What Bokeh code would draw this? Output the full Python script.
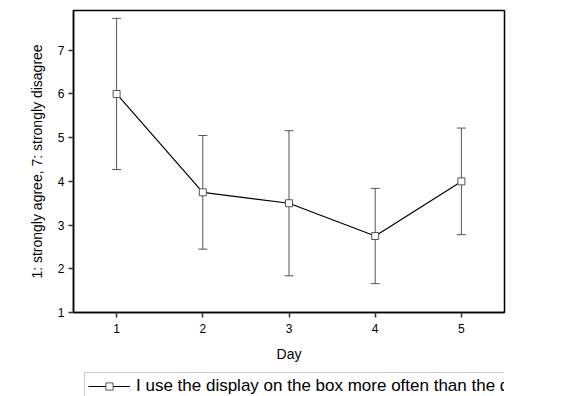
from bokeh.plotting import figure
from bokeh.layouts import column
from bokeh.models import ColumnDataSource, Whisker, TeeHead, Range1d, FixedTicker, Legend, LegendItem
from bokeh.embed import file_html
from bokeh.resources import INLINE

days = [1, 2, 3, 4, 5]
means = [6.0, 3.75, 3.5, 2.75, 4.0]
errors = [1.73, 1.30, 1.66, 1.09, 1.22]
y_ticks = [1, 2, 3, 4, 5, 6, 7]
series_label = "I use the display on the box more often than the desktop app"

upper = [m + e for m, e in zip(means, errors)]
lower = [m - e for m, e in zip(means, errors)]
src = ColumnDataSource(data=dict(x=days, y=means, upper=upper, lower=lower))

FONT = "Liberation Sans"

p = figure(width=562, height=366, output_backend="svg", toolbar_location=None,
           x_range=Range1d(0.5, 5.5), y_range=Range1d(1, 7.91),
           min_border_left=73, min_border_right=58, min_border_top=10, min_border_bottom=54)

p.grid.visible = False
p.outline_line_color = "black"
p.outline_line_width = 1.5
p.background_fill_color = "white"
p.border_fill_color = "white"

for ax in (p.xaxis, p.yaxis):
    ax.axis_line_color = "black"
    ax.axis_line_width = 1.5
    ax.major_tick_line_color = "#333333"
    ax.major_tick_line_width = 1.5
    ax.major_tick_out = 5
    ax.major_tick_in = 0
    ax.minor_tick_line_color = None
    ax.major_label_text_font = FONT
    ax.major_label_text_font_size = "12px"
    ax.major_label_text_color = "black"
    ax.axis_label_text_font = FONT
    ax.axis_label_text_font_size = "14px"
    ax.axis_label_text_font_style = "normal"
    ax.axis_label_text_color = "black"

p.xaxis.ticker = FixedTicker(ticks=days)
p.yaxis.ticker = FixedTicker(ticks=y_ticks)
p.xaxis.axis_label = "Day"
p.yaxis.axis_label = "1: strongly agree, 7: strongly disagree"
p.xaxis.major_label_standoff = 6
p.xaxis.axis_label_standoff = 10
p.yaxis.major_label_standoff = 4
p.yaxis.axis_label_standoff = 10

w = Whisker(source=src, base="x", upper="upper", lower="lower",
            line_color="#555555", line_width=1,
            upper_head=TeeHead(size=9, line_color="#555555", line_width=1),
            lower_head=TeeHead(size=9, line_color="#555555", line_width=1))
p.add_layout(w)

p.line("x", "y", source=src, line_color="black", line_width=1.2)
p.scatter("x", "y", source=src, marker="square", size=7,
          fill_color="white", line_color="#555555", line_width=1)

# legend strip below the chart (glyphs sit outside its visible range; only the legend shows)
lg = figure(width=562, height=30, output_backend="svg", toolbar_location=None,
            x_range=Range1d(0.5, 5.5), y_range=Range1d(100, 101),
            min_border_left=0, min_border_right=0, min_border_top=0, min_border_bottom=0)
lg.axis.visible = False
lg.grid.visible = False
lg.outline_line_color = None
lg.background_fill_color = "white"
lg.border_fill_color = "white"
ln2 = lg.line("x", "y", source=src, line_color="black", line_width=1.2)
sc2 = lg.scatter("x", "y", source=src, marker="square", size=6,
                 fill_color="white", line_color="#555555", line_width=1)

legend = Legend(items=[LegendItem(label=series_label, renderers=[ln2, sc2])],
                location=(11, -4),
                label_text_font=FONT, label_text_font_size="17px", label_text_color="black",
                border_line_color="#999999", border_line_width=1,
                background_fill_alpha=1.0, glyph_width=42, glyph_height=18,
                padding=3, margin=0, label_standoff=6, spacing=0)
lg.add_layout(legend, "center")

layout = column(p, lg, spacing=0)
open("out.html", "w").write(file_html(layout, INLINE))
